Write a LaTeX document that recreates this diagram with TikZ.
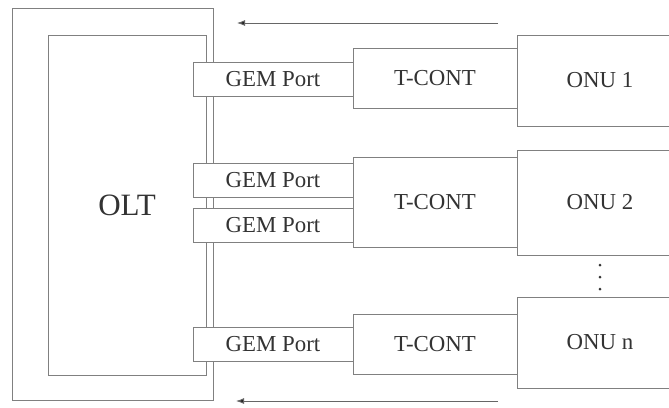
\documentclass[tikz,border=0pt]{standalone}
\usepackage{fontspec}
\setmainfont{Liberation Serif}
\usepackage{tikz}
\usetikzlibrary{arrows.meta}

\begin{document}
\begin{tikzpicture}[
		x=0.03cm,
		y=-0.03cm,
		font=\fontsize{19.5}{22}\selectfont,
		box/.style={draw=black!50, line width=0.8pt, fill=white, text=black!80, inner sep=0pt},
		gem/.style={box, minimum width=4.8cm, minimum height=1.02cm},
		tcont/.style={box, minimum width=4.92cm},
		onu/.style={box, minimum width=4.98cm},
		flow/.style={draw=black!60, line width=0.8pt, -{Latex[length=2.4mm, width=1.8mm, fill=black!85]}}
		]
		\useasboundingbox (0,0) rectangle (669,407);
		\clip (0,0) rectangle (669,407);
		
		% OLT
		\node[box, minimum width=6.03cm, minimum height=11.76cm] (oltframe) at (112.5,204) {};
		\node[box, minimum width=4.74cm, minimum height=10.2cm, font=\fontsize{26.5}{30}\selectfont] (olt) at (127,205) {OLT};
		
		% ONUs
		\node[onu, minimum height=2.73cm] (onu1) at (600,80.5) {ONU 1};
		\node[onu, minimum height=3.15cm] (onu2) at (600,202.5) {ONU 2};
		\node[onu, minimum height=2.73cm] (onun) at (600,342.5) {ONU n};
		
		% T-CONTs
		\node[tcont, minimum height=1.8cm] (tc1) at (435,78) {T-CONT};
		\node[tcont, minimum height=2.7cm] (tc2) at (435,202) {T-CONT};
		\node[tcont, minimum height=1.8cm] (tcn) at (435,344.5) {T-CONT};
		
		% GEM ports
		\node[gem] (gem1) at (273,79) {GEM Port};
		\node[gem] (gem2) at (273,180) {GEM Port};
		\node[gem] (gem3) at (273,225) {GEM Port};
		\node[gem] (gemn) at (273,344) {GEM Port};
		
		% dots
		\foreach \y in {265,277,289}
			\fill[black!80] (600,\y) circle (1.5);
		
		% flow arrows
		\coordinate (topR) at (498,23);
		\coordinate (topL) at (237,23);
		\coordinate (botR) at (498,401);
		\coordinate (botL) at (236,401);
		\draw[flow] (topR) -- (topL);
		\draw[flow] (botR) -- (botL);
	\end{tikzpicture}
\end{document}
